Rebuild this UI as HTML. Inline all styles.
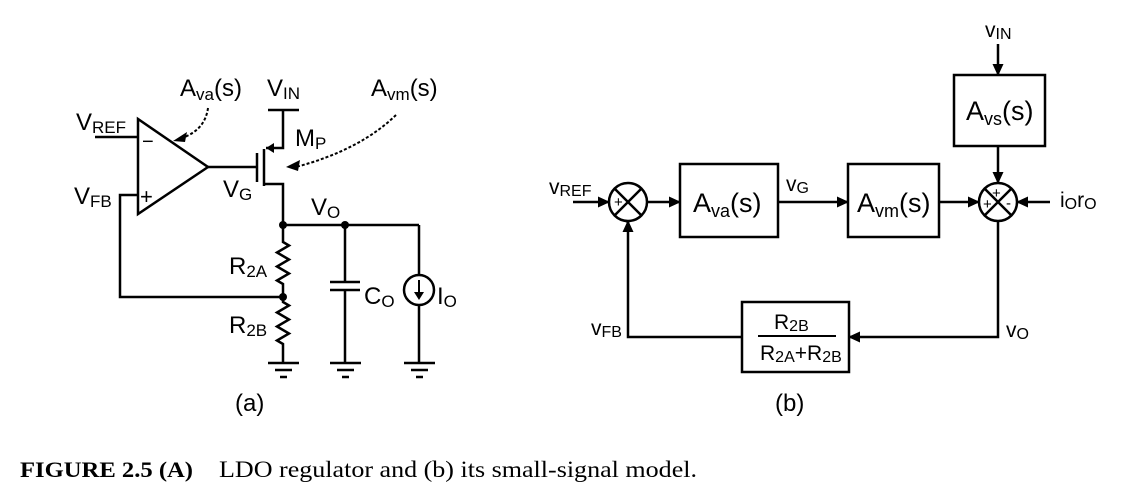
<!DOCTYPE html>
<html><head><meta charset="utf-8"><style>
body{margin:0;background:#fff}
svg{display:block}
text{font-family:"Liberation Sans",sans-serif;fill:#000}
</style></head><body>
<svg width="1129" height="502" viewBox="0 0 1129 502" xmlns="http://www.w3.org/2000/svg">
<defs>
<marker id="ar" markerWidth="12" markerHeight="12" refX="11" refY="6" orient="auto" markerUnits="userSpaceOnUse"><path d="M0,0.5 L12,6 L0,11.5 Z" fill="#000"/></marker>
</defs>
<g stroke="#000" stroke-width="2.5" fill="none">
<path d="M138,119 L138,214 L208,167 Z"/>
<line x1="95" y1="137" x2="138" y2="137"/>
<path d="M138,195 H120 V297 H285"/>
<line x1="208" y1="167" x2="257" y2="167"/>
<line x1="257" y1="153" x2="257" y2="182"/>
<line x1="264" y1="149" x2="264" y2="186"/>
<path d="M283,110 V148 H266"/>
<path d="M264,184 H283 V225"/>
<line x1="268" y1="110" x2="299" y2="110"/>
<line x1="283" y1="225" x2="419" y2="225"/>
<path d="M283,225 V242 l6,3.5 l-12,7 l12,7 l-12,7 l12,7 l-12,7 l6,3.5 V302 l6,3.5 l-12,7 l12,7 l-12,7 l12,7 l-12,7 l6,3.5 V363"/>
<path d="M345,225 V282 M330,282 H360 M330,290 H360 M345,290 V363"/>
<path d="M419,225 V275 M419,305 V363"/>
<circle cx="419" cy="290" r="15"/>
<line x1="419" y1="280" x2="419" y2="298" stroke-width="2"/>
<path d="M268,363 H299 M275,370 H292 M280,377 H287"/>
<path d="M330,363 H361 M337,370 H354 M342,377 H349"/>
<path d="M404,363 H435 M411,370 H428 M416,377 H423"/>
<path d="M208,108 Q205,130 182,138" stroke-width="2" stroke-dasharray="3,2"/>
<path d="M396,115 Q360,150 296,167" stroke-width="2" stroke-dasharray="3,2"/>
</g>
<path d="M266,148 l8,-5 v10 Z" fill="#000"/>
<path d="M173,141 l14,-9 l-2,10 Z" fill="#000"/>
<path d="M286,167 l14,-7 l-2,11 Z" fill="#000"/>
<circle cx="283" cy="225" r="4" fill="#000"/>
<circle cx="345" cy="225" r="4" fill="#000"/>
<circle cx="283" cy="297" r="4" fill="#000"/>
<path d="M414,292 h10 l-5,8 Z" fill="#000"/>
<g font-size="24">
<text x="76" y="130">V<tspan font-size="17" dy="3">REF</tspan></text>
<text x="74" y="204">V<tspan font-size="17" dy="3">FB</tspan></text>
<text x="142" y="148" font-size="20">−</text>
<text x="140" y="204" font-size="22">+</text>
<text x="180" y="96">A<tspan font-size="17" dy="4">va</tspan><tspan dy="-4">(s)</tspan></text>
<text x="267" y="96">V<tspan font-size="17" dy="3">IN</tspan></text>
<text x="371" y="96">A<tspan font-size="17" dy="4">vm</tspan><tspan dy="-4">(s)</tspan></text>
<text x="295" y="146">M<tspan font-size="17" dy="3">P</tspan></text>
<text x="223" y="197">V<tspan font-size="17" dy="3">G</tspan></text>
<text x="311" y="215">V<tspan font-size="17" dy="3">O</tspan></text>
<text x="229" y="274">R<tspan font-size="17" dy="3">2A</tspan></text>
<text x="229" y="333">R<tspan font-size="17" dy="3">2B</tspan></text>
<text x="364" y="304">C<tspan font-size="17" dy="3">O</tspan></text>
<text x="437" y="304">I<tspan font-size="17" dy="3">O</tspan></text>
<text x="235" y="411">(a)</text>
<text x="775" y="411">(b)</text>
</g>
<g stroke="#000" stroke-width="2.5" fill="none">
<circle cx="628" cy="202" r="19"/>
<path d="M615,189 L641,215 M641,189 L615,215"/>
<circle cx="998" cy="202" r="19"/>
<path d="M985,189 L1011,215 M1011,189 L985,215"/>
<rect x="680" y="164" width="98" height="73"/>
<rect x="848" y="164" width="91" height="73"/>
<rect x="954" y="75" width="91" height="71"/>
<rect x="742" y="302" width="107" height="70"/>
<line x1="758" y1="336" x2="836" y2="336" stroke-width="2"/>
<line x1="573" y1="202" x2="609" y2="202" marker-end="url(#ar)"/>
<line x1="647" y1="202" x2="680" y2="202" marker-end="url(#ar)"/>
<line x1="778" y1="202" x2="848" y2="202" marker-end="url(#ar)"/>
<line x1="939" y1="202" x2="979" y2="202" marker-end="url(#ar)"/>
<line x1="998" y1="44" x2="998" y2="75" marker-end="url(#ar)"/>
<line x1="998" y1="146" x2="998" y2="183" marker-end="url(#ar)"/>
<line x1="1050" y1="202" x2="1017" y2="202" marker-end="url(#ar)"/>
<path d="M998,221 V337 H849" marker-end="url(#ar)"/>
<path d="M742,337 H628 V221" marker-end="url(#ar)"/>
</g>
<g font-size="15">
<text x="614" y="207">+</text>
<text x="625" y="226">-</text>
<text x="992" y="198">+</text>
<text x="983" y="209">+</text>
<text x="1006" y="208">-</text>
</g>
<g font-size="21">
<text x="549" y="194">v<tspan font-size="16" dy="2">REF</tspan></text>
<text x="786" y="191">v<tspan font-size="16" dy="2">G</tspan></text>
<text x="985" y="37">v<tspan font-size="16" dy="2">IN</tspan></text>
<text x="1060" y="207">i<tspan font-size="16" dy="2">O</tspan><tspan dy="-2">r</tspan><tspan font-size="16" dy="2">O</tspan></text>
<text x="591" y="335">v<tspan font-size="16" dy="2">FB</tspan></text>
<text x="1006" y="337">v<tspan font-size="16" dy="2">O</tspan></text>
<text x="774" y="329">R<tspan font-size="16" dy="2">2B</tspan></text>
<text x="760" y="360">R<tspan font-size="16" dy="2">2A</tspan><tspan dy="-2">+R</tspan><tspan font-size="16" dy="2">2B</tspan></text>
</g>
<g font-size="27">
<text x="693" y="212">A<tspan font-size="18" dy="5">va</tspan><tspan dy="-5">(s)</tspan></text>
<text x="857" y="212">A<tspan font-size="18" dy="5">vm</tspan><tspan dy="-5">(s)</tspan></text>
<text x="966" y="120">A<tspan font-size="18" dy="5">vs</tspan><tspan dy="-5">(s)</tspan></text>
</g>
<text x="20" y="477" font-weight="bold" font-size="22" textLength="173" lengthAdjust="spacingAndGlyphs" style="font-family:'Liberation Serif',serif">FIGURE 2.5 (A)</text>
<text x="219" y="477" font-size="23" textLength="478" lengthAdjust="spacingAndGlyphs" style="font-family:'Liberation Serif',serif">LDO regulator and (b) its small-signal model.</text>
</svg>
</body></html>
